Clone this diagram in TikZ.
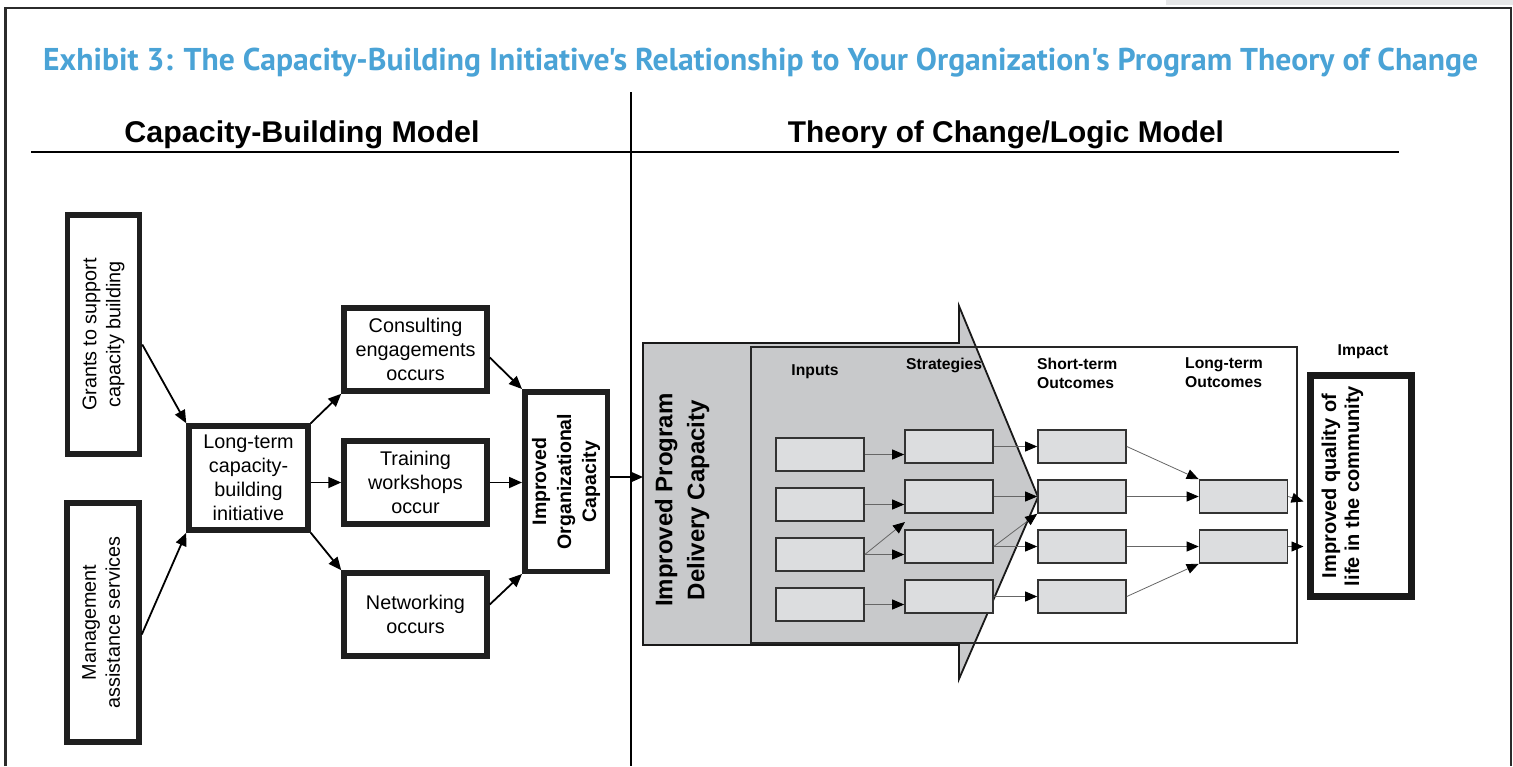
\documentclass[tikz,border=0pt]{standalone}
\usepackage{fontspec}
\setmainfont{Liberation Sans}
\newfontfamily\titlefont{PT Sans}
\usetikzlibrary{arrows.meta,calc}
\definecolor{titleblue}{RGB}{74,163,214}
\definecolor{arrowgray}{RGB}{200,201,203}
\definecolor{boxgray}{RGB}{220,221,223}
\definecolor{framegray}{RGB}{43,43,43}
\definecolor{stripgray}{RGB}{230,231,232}
\newcommand\rtext[1]{\rotatebox{90}{\begin{tabular}{@{}c@{}}#1\end{tabular}}}
\begin{document}
\begin{tikzpicture}[x=1pt,y=-1pt,
  thickbox/.style={draw=black!88, line width=5.5pt, fill=white, inner sep=0pt, align=center, font=\fontsize{19.8}{24}\selectfont},
  smallbox/.style={draw=black!80, line width=1.6pt, fill=boxgray, minimum width=88pt, minimum height=33pt, inner sep=0pt},
  colhead/.style={font=\bfseries\fontsize{15.7}{19}\selectfont, inner sep=0pt, align=left},
  bigarr/.style={line width=1.8pt, draw=black, -{Triangle[length=13pt,width=11pt]}},
  smallarr/.style={line width=0.8pt, draw=black!60, -{Triangle[length=12pt,width=10pt,color=black]}}
]
\useasboundingbox (0,0) rectangle (1513,766);
\fill[white] (0,0) rectangle (1513,766);
\fill[stripgray] (1166,0) rectangle (1513,5);
\draw[framegray, line width=2.5pt] (5.5,766) -- (5.5,8) -- (1511,8) -- (1511,766);

% title
\node[anchor=base west, inner sep=0pt, text=titleblue] (title) at (43,70)
  {\resizebox{1435pt}{\height}{\titlefont\bfseries\fontsize{31.5}{36}\selectfont Exhibit 3: The Capacity-Building Initiative's Relationship to Your Organization's Program Theory of Change}};

% headings
\node[anchor=base, inner sep=0pt, font=\bfseries\fontsize{30}{36}\selectfont] (hl) at (302,142)
  {\resizebox{355pt}{\height}{Capacity-Building Model}};
\node[anchor=base, inner sep=0pt, font=\bfseries\fontsize{30}{36}\selectfont] (hr) at (1006,142)
  {\resizebox{436pt}{\height}{Theory of Change/Logic Model}};
\draw[line width=1.5pt] (31,152) -- (1399,152);
\draw[line width=1.5pt] (631,92) -- (631,766);

% left model
\node[thickbox, minimum width=72pt, minimum height=239pt] (grants) at (103.5,334.5) {\rtext{Grants to support\\capacity building}};
\node[thickbox, minimum width=72pt, minimum height=239pt] (mgmt) at (103,622.5) {\rtext{Management\\assistance services}};
\node[thickbox, minimum width=119pt, minimum height=104pt] (lt) at (248.5,478) {Long-term\\capacity-\\building\\initiative};
\node[thickbox, minimum width=143pt, minimum height=83pt] (consult) at (415.5,349.5) {Consulting\\engagements\\occurs};
\node[thickbox, minimum width=143pt, minimum height=83pt] (train) at (415.5,482.5) {Training\\workshops\\occur};
\node[thickbox, minimum width=143pt, minimum height=83pt] (net) at (415.5,614.5) {Networking\\occurs};
\node[thickbox, minimum width=82.5pt, minimum height=179.5pt, font=\bfseries\fontsize{19.5}{25}\selectfont] (ioc) at (566,481.5) {\rtext{Improved\\Organizational\\Capacity}};

\draw[bigarr] ($(grants.east)+(0,10)$) -- (lt.north west);
\draw[bigarr] ($(mgmt.east)+(0,12)$) -- (lt.south west);
\draw[bigarr] (lt.north east) -- (consult.south west);
\draw[bigarr] (lt.east |- train.west) -- (train.west);
\draw[bigarr] (lt.south east) -- (net.north west);
\draw[bigarr] ($(consult.east)+(0,8)$) -- (ioc.north west);
\draw[bigarr] (train.east) -- (train.east -| ioc.west);
\draw[bigarr] ($(net.east)+(0,-10)$) -- (ioc.south west);

% big arrow
\draw[fill=arrowgray, draw=black!90, line width=1.8pt, line join=miter]
  (643,343) -- (959,343) -- (959,306) -- (1038,497) -- (959,679) -- (959,645) -- (643,645) -- cycle;
\coordinate (arrL) at (643,477);
\draw[bigarr] (ioc.east |- arrL) -- (arrL);
\draw[line width=1.3pt, black!85] (751,347) rectangle (1297,643);
\node[font=\bfseries\fontsize{24}{32}\selectfont, inner sep=0pt] (ipdc) at (682,500) {\rtext{Improved Program\\Delivery Capacity}};

% column heads
\node[colhead, anchor=base] (hin) at (815,375) {Inputs};
\node[colhead, anchor=base west] (hst) at (906,369) {Strategies};
\node[colhead, anchor=north west] (hsto) at (1037,357.5) {Short-term\\Outcomes};
\node[colhead, anchor=north west] (hlto) at (1185,357.5) {Long-term\\Outcomes};
\node[colhead, anchor=base] (himp) at (1363,355) {Impact};

% small boxes
\node[smallbox] (i1) at (820,454.5) {};
\node[smallbox] (i2) at (820,504.5) {};
\node[smallbox] (i3) at (820,554.5) {};
\node[smallbox] (i4) at (820,604.5) {};
\node[smallbox] (s1) at (949,446.5) {};
\node[smallbox] (s2) at (949,496.5) {};
\node[smallbox] (s3) at (949,546.5) {};
\node[smallbox] (s4) at (949,596.5) {};
\node[smallbox] (t1) at (1082,446.5) {};
\node[smallbox] (t2) at (1082,496.5) {};
\node[smallbox] (t3) at (1082,546.5) {};
\node[smallbox] (t4) at (1082,596.5) {};
\node[smallbox] (l1) at (1243.5,496.5) {};
\node[smallbox] (l2) at (1243.5,546.5) {};

\node[draw=black!90, line width=7pt, fill=white, minimum width=101pt, minimum height=221pt, inner sep=0pt] (impact) at (1360.5,485.5) {};
\node[font=\bfseries\fontsize{20}{23}\selectfont, inner sep=0pt] (impacttxt) at (1343,486) {\rtext{Improved quality of\\life in the community}};

% small arrows
\coordinate (d1) at (905,522);
\draw[smallarr] (i1.east) -- (i1.east -| s1.west);
\draw[smallarr] (i2.east) -- (i2.east -| s2.west);
\draw[smallarr] (i3.east) -- (i3.east -| s3.west);
\draw[smallarr] (i3.east) -- (d1);
\draw[smallarr] (i4.east) -- (i4.east -| s4.west);
\draw[smallarr] (s1.east) -- (t1.west);
\draw[smallarr] (s2.east) -- (t2.west);
\draw[smallarr] (s3.east) -- (t3.west);
\draw[smallarr] (s3.east) -- (t2.south west);
\draw[smallarr] (s4.east) -- (t4.west);
\draw[smallarr] (t1.east) -- (l1.north west);
\draw[smallarr] (t2.east) -- (l1.west);
\draw[smallarr] (t3.east) -- (l2.west);
\draw[smallarr] (t4.east) -- (l2.south west);
\draw[smallarr] (l1.east) -- ($(impact.west |- l1.east)+(-3,5)$);
\draw[smallarr] (l2.east) -- ($(impact.west |- l2.east)+(-3,0)$);
\end{tikzpicture}
\end{document}
